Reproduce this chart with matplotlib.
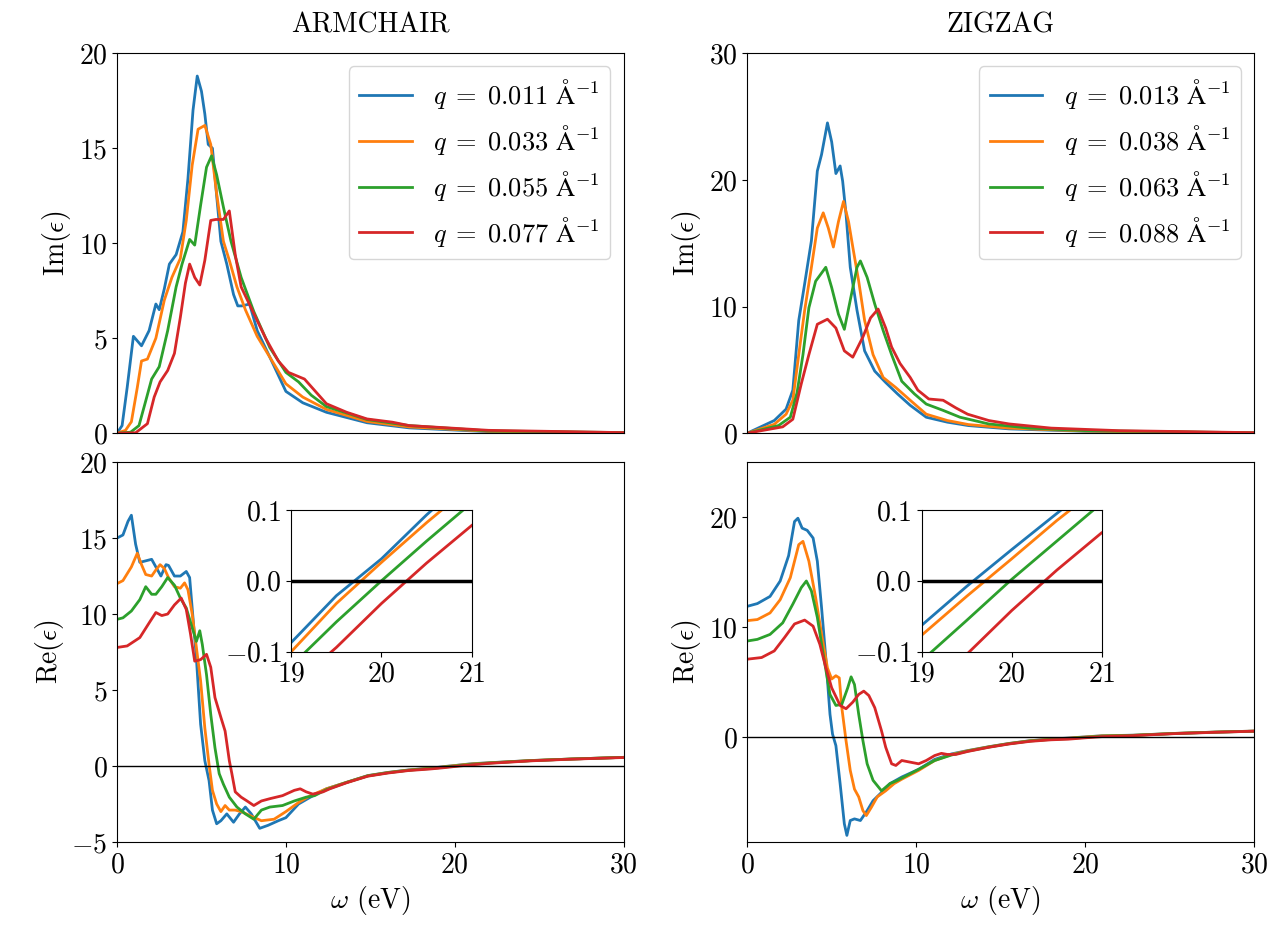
import numpy as np
import matplotlib
matplotlib.use('Agg')
import matplotlib.pyplot as plt

plt.rcParams['font.family'] = 'serif'
plt.rcParams['font.serif'] = ['cmr10']
plt.rcParams['mathtext.fontset'] = 'cm'
plt.rcParams['axes.formatter.use_mathtext'] = True
plt.rcParams['axes.unicode_minus'] = True
plt.rcParams['font.size'] = 20

colors = ['#1f77b4', '#ff7f0e', '#2ca02c', '#d62728']
q_arm = ['0.011', '0.033', '0.055', '0.077']
q_zig = ['0.013', '0.038', '0.063', '0.088']

# ---------------- ARMCHAIR Im(eps) ----------------
arm_im_x = [
    [0, 0.3, 0.6, 0.97, 1.45, 1.9, 2.3, 2.5, 2.8, 3.1, 3.5, 3.9, 4.2, 4.5, 4.75, 5.0, 5.2, 5.4, 5.65,
     5.9, 6.15, 6.5, 6.9, 7.15, 7.4, 7.85, 8.3, 9.05, 10.0, 11.0, 12.4, 14.8, 17.3, 22, 30],
    [0, 0.5, 0.85, 1.2, 1.45, 1.8, 2.3, 2.8, 3.25, 3.75, 4.1, 4.45, 4.8, 5.2, 5.55, 5.9, 6.3, 6.65,
     7.1, 7.6, 8.3, 9.05, 10.0, 11.0, 12.4, 14.8, 17.3, 22, 30],
    [0, 0.8, 1.3, 1.7, 2.05, 2.5, 3.0, 3.5, 3.85, 4.3, 4.6, 4.95, 5.3, 5.6, 5.9, 6.3, 6.75, 7.35, 8.1,
     9.05, 10.0, 10.75, 11.5, 12.4, 14.8, 17.3, 22, 30],
    [0, 1.1, 1.8, 2.2, 2.55, 3.0, 3.4, 3.75, 4.05, 4.3, 4.6, 4.9, 5.2, 5.55, 5.85, 6.3, 6.65, 7.0,
     7.35, 8.1, 8.8, 9.55, 10.15, 11.1, 11.7, 12.4, 13.6, 14.8, 16.3, 17.3, 22, 30],
]
arm_im_y = [
    [0, 0.4, 2.4, 5.1, 4.6, 5.4, 6.8, 6.5, 7.6, 8.9, 9.4, 10.6, 13.4, 17.0, 18.8, 18.0, 16.8, 15.2, 15.0,
     12.5, 10.1, 8.9, 7.3, 6.7, 6.7, 6.8, 5.4, 4.0, 2.2, 1.6, 1.1, 0.55, 0.28, 0.08, 0.02],
    [0, 0.15, 0.6, 2.4, 3.8, 3.9, 5.0, 7.0, 8.2, 9.2, 11.2, 14.1, 16.0, 16.2, 15.2, 12.6, 10.1, 9.1,
     7.7, 6.5, 5.1, 4.0, 2.6, 1.9, 1.25, 0.62, 0.33, 0.1, 0.02],
    [0, 0.05, 0.4, 1.7, 2.85, 3.5, 5.4, 7.7, 8.9, 10.2, 9.9, 12.0, 14.0, 14.6, 13.6, 11.9, 10.1, 8.2, 6.4,
     4.5, 3.2, 2.7, 2.0, 1.4, 0.72, 0.4, 0.12, 0.03],
    [0, 0.02, 0.5, 1.9, 2.7, 3.3, 4.2, 6.1, 7.9, 8.9, 8.2, 7.8, 9.1, 11.2, 11.25, 11.25, 11.7, 9.4,
     7.7, 6.3, 5.0, 3.8, 3.2, 2.85, 2.25, 1.55, 1.1, 0.75, 0.58, 0.4, 0.15, 0.03],
]

# ---------------- ZIGZAG Im(eps) ----------------
zig_im_x = [
    [0, 1.6, 2.3, 2.7, 3.05, 3.4, 3.8, 4.15, 4.4, 4.75, 5.0, 5.25, 5.5, 5.65, 5.85, 6.1, 6.5, 6.95,
     7.55, 8.2, 8.9, 9.65, 10.6, 11.85, 13.1, 15.5, 20, 30],
    [0, 1.6, 2.3, 2.7, 3.05, 3.4, 3.8, 4.15, 4.5, 4.8, 5.1, 5.4, 5.7, 6.0, 6.25, 6.6, 6.95, 7.45,
     8.05, 8.8, 9.65, 10.6, 11.85, 13.1, 15.5, 20, 30],
    [0, 1.85, 2.55, 2.95, 3.3, 3.65, 4.05, 4.65, 5.0, 5.4, 5.75, 6.1, 6.5, 6.7, 7.1, 7.55, 8.05,
     8.55, 9.15, 9.9, 10.6, 11.6, 12.6, 14.3, 16.7, 20, 30],
    [0, 2.1, 2.7, 3.2, 3.65, 4.15, 4.75, 5.25, 5.75, 6.25, 6.85, 7.3, 7.75, 8.2, 8.55, 9.05, 9.65,
     10.1, 10.75, 11.6, 12.35, 13.05, 14.3, 15.5, 18, 22, 30],
]
zig_im_y = [
    [0, 1.0, 1.9, 3.4, 8.9, 11.8, 15.2, 20.7, 22.0, 24.5, 23.0, 20.5, 21.1, 19.9, 17.3, 13.1, 9.7, 6.5,
     4.9, 4.0, 3.1, 2.2, 1.26, 0.87, 0.6, 0.34, 0.15, 0.02],
    [0, 0.7, 1.5, 2.6, 6.2, 9.7, 13.1, 16.2, 17.4, 16.2, 14.7, 16.7, 18.3, 16.7, 14.7, 12.0, 8.9, 6.2,
     4.4, 3.6, 2.6, 1.5, 1.0, 0.68, 0.4, 0.17, 0.02],
    [0, 0.6, 1.26, 3.2, 6.2, 9.9, 12.0, 13.1, 11.5, 9.4, 8.2, 10.5, 13.1, 13.6, 12.3, 10.2, 8.1,
     6.2, 4.1, 3.1, 2.3, 1.8, 1.26, 0.73, 0.4, 0.2, 0.03],
    [0, 0.5, 1.1, 3.9, 6.2, 8.6, 9.0, 8.3, 6.5, 6.0, 7.6, 9.1, 9.8, 8.3, 6.8, 5.5, 4.4,
     3.4, 2.7, 2.6, 2.0, 1.5, 1.0, 0.73, 0.4, 0.2, 0.04],
]

# ---------------- ARMCHAIR Re(eps) ----------------
arm_re_x = [
    [0, 0.35, 0.65, 0.85, 1.1, 1.35, 1.7, 2.05, 2.35, 2.6, 2.9, 3.05, 3.4, 3.75, 4.1, 4.3, 4.45, 4.7,
     4.95, 5.2, 5.45, 5.65, 5.9, 6.15, 6.5, 6.9, 7.25, 7.6, 7.95, 8.45, 8.95, 9.55, 10.0, 10.75, 11.45,
     12.4, 13.6, 14.85, 16.05, 17.25, 18.5, 19.0, 19.5, 20.0, 20.5, 21.0, 22.1, 24.5, 26.9, 30],
    [0, 0.35, 0.85, 1.2, 1.45, 1.7, 2.05, 2.3, 2.55, 2.8, 3.05, 3.4, 3.75, 4.0, 4.2, 4.45, 4.7,
     4.95, 5.2, 5.45, 5.65, 5.9, 6.15, 6.4, 6.65, 7.0, 7.35, 7.85, 8.55, 9.3, 10.0, 10.75, 11.45,
     12.4, 13.6, 14.85, 16.05, 17.25, 18.5, 19.0, 19.5, 20.0, 20.5, 21.0, 22.1, 24.5, 26.9, 30],
    [0, 0.35, 0.85, 1.35, 1.7, 2.05, 2.3, 2.65, 3.0, 3.4, 3.75, 4.1, 4.45, 4.7, 4.9, 5.05, 5.3,
     5.55, 5.8, 6.05, 6.3, 6.65, 7.1, 7.6, 8.1, 8.55, 9.05, 9.8, 10.5, 11.2, 11.7,
     12.4, 13.6, 14.85, 16.05, 17.25, 18.5, 19.0, 19.5, 20.0, 20.5, 21.0, 22.1, 24.5, 26.9, 30],
    [0, 0.6, 1.35, 1.95, 2.3, 2.65, 3.0, 3.4, 3.8, 4.1, 4.35, 4.6, 4.95, 5.3, 5.55, 5.8, 6.15,
     6.4, 6.65, 6.8, 7.0, 7.35, 7.7, 8.1, 8.55, 9.05, 9.8, 10.5, 10.85, 11.2, 11.6, 12.2,
     12.6, 13.6, 14.85, 16.05, 17.25, 18.5, 19.0, 19.5, 20.0, 20.5, 21.0, 22.1, 24.5, 26.9, 30],
]
arm_re_y = [
    [15.0, 15.2, 16.1, 16.5, 14.6, 13.4, 13.5, 13.6, 13.0, 12.5, 13.25, 13.2, 12.5, 12.5, 12.8, 12.4,
     10.4, 7.1, 2.75, 0.35, -0.96, -2.9, -3.8, -3.6, -3.15, -3.7, -3.15, -2.7, -3.15, -4.1, -3.9, -3.6,
     -3.4, -2.5, -2.05, -1.5, -1.07, -0.63, -0.42, -0.26, -0.14, -0.087, -0.021, 0.031, 0.093, 0.15,
     0.22, 0.36, 0.46, 0.57],
    [12.0, 12.2, 13.1, 14.0, 13.25, 12.6, 12.5, 12.9, 13.25, 13.0, 12.4, 11.8, 11.7, 12.05, 11.6,
     10.0, 7.8, 5.6, 2.5, 0.1, -1.6, -2.5, -3.0, -2.6, -2.9, -2.9, -3.0, -3.25, -3.6, -3.5, -3.0, -2.4,
     -1.95, -1.5, -1.07, -0.64, -0.43, -0.27, -0.15, -0.1, -0.032, 0.026, 0.082, 0.135,
     0.21, 0.36, 0.46, 0.57],
    [9.65, 9.75, 10.2, 10.95, 11.8, 11.3, 11.3, 11.8, 12.4, 11.9, 11.05, 10.4, 9.1, 8.2, 8.9, 8.0,
     6.0, 3.4, 1.2, -0.5, -1.2, -2.05, -2.7, -3.15, -3.5, -2.9, -2.7, -2.6, -2.3, -2.05, -1.95,
     -1.55, -1.08, -0.65, -0.44, -0.28, -0.17, -0.12, -0.058, 0.0, 0.056, 0.11,
     0.2, 0.35, 0.46, 0.57],
    [7.8, 7.9, 8.45, 9.5, 10.1, 9.9, 10.0, 10.6, 11.05, 10.3, 8.7, 6.9, 7.0, 7.35, 6.5, 4.5, 3.2,
     2.3, 0.35, -0.5, -1.7, -2.05, -2.3, -2.6, -2.3, -2.15, -1.95, -1.6, -1.5, -1.7, -1.85, -1.7,
     -1.5, -1.1, -0.67, -0.46, -0.3, -0.2, -0.15, -0.094, -0.032, 0.025, 0.078,
     0.18, 0.34, 0.45, 0.56],
]

# ---------------- ZIGZAG Re(eps) ----------------
zig_re_x = [
    [0, 0.6, 1.35, 1.95, 2.45, 2.8, 3.0, 3.25, 3.55, 3.9, 4.15, 4.4, 4.65, 4.9, 5.05, 5.25, 5.5,
     5.75, 5.9, 6.1, 6.35, 6.7, 7.1, 7.45, 7.95, 8.45, 9.15, 10.15, 11.1, 12.1, 13.05, 14.3, 15.5,
     16.75, 18.0, 19.0, 19.5, 20.0, 20.5, 21.0, 22.85, 25.3, 27.7, 30],
    [0, 0.6, 1.35, 1.95, 2.55, 3.05, 3.3, 3.65, 4.05, 4.4, 4.75, 5.0, 5.25, 5.45, 5.6, 5.85, 6.1,
     6.35, 6.6, 6.85, 7.05, 7.35, 7.7, 8.2, 8.7, 9.15, 10.15, 11.1, 12.1, 13.05, 14.3, 15.5,
     16.75, 18.0, 19.0, 19.5, 20.0, 20.5, 21.0, 22.85, 25.3, 27.7, 30],
    [0, 0.6, 1.35, 2.1, 2.7, 3.2, 3.5, 3.8, 4.15, 4.5, 4.9, 5.25, 5.6, 5.95, 6.15, 6.35, 6.6, 6.85,
     7.1, 7.45, 7.95, 8.45, 8.9, 9.4, 10.15, 11.1, 12.1, 13.05, 14.3, 15.5,
     16.75, 18.0, 19.0, 19.5, 20.0, 20.5, 21.0, 22.85, 25.3, 27.7, 30],
    [0, 0.85, 1.6, 2.2, 2.8, 3.4, 3.9, 4.3, 4.65, 5.0, 5.5, 5.85, 6.25, 6.6, 6.9, 7.2, 7.55, 7.95,
     8.2, 8.55, 8.8, 9.15, 9.65, 10.15, 10.6, 11.1, 11.5, 11.85, 12.35, 13.05, 14.3, 15.5,
     16.75, 18.0, 19.0, 19.5, 20.0, 20.5, 21.0, 22.85, 25.3, 27.7, 30],
]
zig_re_y = [
    [11.9, 12.15, 12.8, 14.2, 16.5, 19.6, 19.9, 19.0, 18.8, 18.1, 16.0, 11.8, 7.25, 2.1, 0.3, -0.75,
     -4.2, -7.85, -8.9, -7.55, -7.4, -7.55, -6.65, -5.75, -5.0, -4.2, -3.6, -2.9, -2.0, -1.5, -1.2,
     -0.85, -0.55, -0.3, -0.15, -0.063, -0.008, 0.044, 0.095, 0.145, 0.2, 0.36, 0.48, 0.57],
    [10.6, 10.7, 11.3, 12.5, 14.5, 17.5, 17.8, 16.0, 12.7, 9.4, 6.3, 5.3, 5.6, 5.4, 2.7, -0.3, -3.0,
     -4.7, -5.4, -6.65, -7.1, -6.35, -5.4, -4.85, -4.2, -3.8, -3.0, -2.1, -1.55, -1.22, -0.86, -0.56,
     -0.31, -0.16, -0.077, -0.022, 0.031, 0.085, 0.135, 0.19, 0.36, 0.48, 0.57],
    [8.75, 8.9, 9.35, 10.4, 12.1, 13.6, 14.2, 13.3, 10.9, 7.55, 3.9, 2.9, 3.0, 4.5, 5.5, 4.8, 2.1,
     -0.3, -2.4, -3.9, -4.85, -4.2, -3.9, -3.5, -2.9, -2.1, -1.6, -1.25, -0.88, -0.58,
     -0.33, -0.18, -0.113, -0.056, 0.002, 0.056, 0.11, 0.18, 0.35, 0.47, 0.56],
    [7.1, 7.25, 7.85, 9.05, 10.3, 10.65, 10.1, 8.45, 6.35, 4.5, 2.9, 2.6, 3.2, 3.9, 4.2, 3.8, 2.7,
     0.6, -0.9, -2.4, -2.55, -2.1, -2.25, -2.4, -2.1, -1.65, -1.45, -1.55, -1.55, -1.28, -0.9, -0.6,
     -0.36, -0.22, -0.165, -0.104, -0.042, 0.015, 0.068, 0.16, 0.34, 0.46, 0.56],
]

fig, axes = plt.subplots(2, 2, figsize=(12.86, 9.34), dpi=100, sharex=True)
fig.subplots_adjust(left=0.091, right=0.975, top=0.943, bottom=0.0985, wspace=0.244, hspace=0.076)

ax_ai, ax_zi = axes[0]
ax_ar, ax_zr = axes[1]

lab = r'$q\;=\;%s\ \mathrm{\AA}^{-1}$'
for i in range(4):
    ax_ai.plot(arm_im_x[i], arm_im_y[i], color=colors[i], lw=2, label=lab % q_arm[i])
    ax_zi.plot(zig_im_x[i], zig_im_y[i], color=colors[i], lw=2, label=lab % q_zig[i])
    ax_ar.plot(arm_re_x[i], arm_re_y[i], color=colors[i], lw=2)
    ax_zr.plot(zig_re_x[i], zig_re_y[i], color=colors[i], lw=2)

ax_ai.set_title('ARMCHAIR', fontsize=20, pad=15)
ax_zi.set_title('ZIGZAG', fontsize=20, pad=15)

ax_ai.set_xlim(0, 30)
ax_ai.set_ylim(0, 20)
ax_ai.set_yticks([0, 5, 10, 15, 20])
ax_zi.set_ylim(0, 30)
ax_zi.set_yticks([0, 10, 20, 30])
ax_ar.set_ylim(-5, 20)
ax_ar.set_yticks([-5, 0, 5, 10, 15, 20])
ax_zr.set_ylim(-9.5, 25)
ax_zr.set_yticks([0, 10, 20])
for a in axes[1]:
    a.set_xticks([0, 10, 20, 30])
    a.set_xlabel(r'$\omega$ (eV)', fontsize=20)
    a.axhline(0, color='black', lw=1)

ax_ai.set_ylabel(r'$\mathrm{Im}(\epsilon)$', fontsize=20)
ax_zi.set_ylabel(r'$\mathrm{Im}(\epsilon)$', fontsize=20)
ax_ar.set_ylabel(r'$\mathrm{Re}(\epsilon)$', fontsize=20)
ax_zr.set_ylabel(r'$\mathrm{Re}(\epsilon)$', fontsize=20)

for a in axes.flat:
    a.tick_params(labelsize=20)
for a in axes[0]:
    a.tick_params(axis='x', bottom=False)

ax_ai.legend(loc='upper right', fontsize=19, labelspacing=0.45)
ax_zi.legend(loc='upper right', fontsize=19, labelspacing=0.45)

# insets around the zero crossing
for a, xs, ys in [(ax_ar, arm_re_x, arm_re_y), (ax_zr, zig_re_x, zig_re_y)]:
    ins = a.inset_axes([0.344, 0.501, 0.356, 0.373])
    for i in range(4):
        ins.plot(xs[i], ys[i], color=colors[i], lw=2)
    ins.axhline(0, color='black', lw=2.5)
    ins.set_xlim(19, 21)
    ins.set_ylim(-0.1, 0.1)
    ins.set_xticks([19, 20, 21])
    ins.set_yticks([-0.1, 0.0, 0.1])
    ins.tick_params(labelsize=20)

plt.savefig('out.png', dpi=100)
